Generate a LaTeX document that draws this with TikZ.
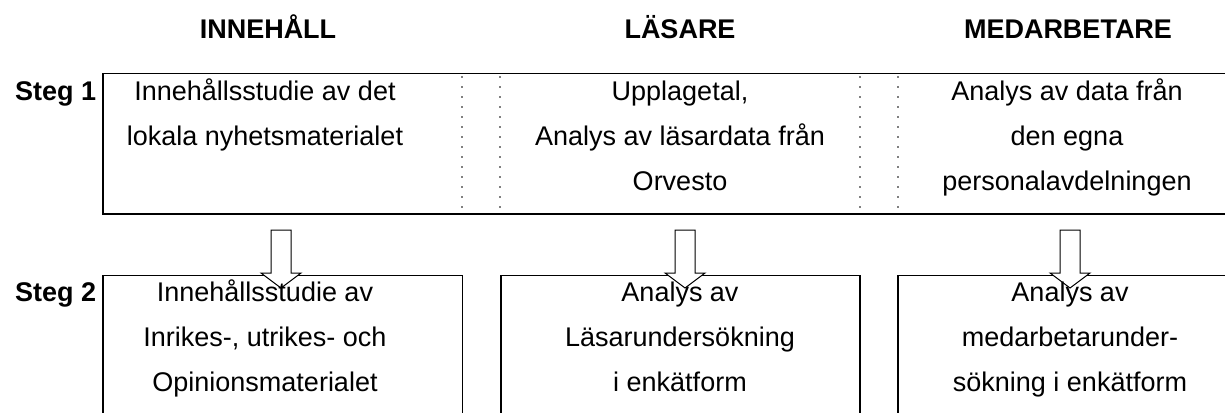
\documentclass[tikz,border=0pt]{standalone}
\usepackage{fontspec}
\setmainfont{Liberation Sans}
\begin{document}
\begin{tikzpicture}[x=1pt,y=-1pt,
    frame/.style={line width=1.5pt},
    sep/.style={gray,line width=1.8pt,dash pattern=on 1.8pt off 8.2pt},
    head/.style={font=\bfseries\fontsize{27}{32}\selectfont,anchor=base,inner sep=0pt},
    cell/.style={font=\fontsize{27}{45}\selectfont,align=center,anchor=north,inner sep=0pt},
    blockarrow/.style={draw,fill=white,line width=1pt,line join=miter}]
  \useasboundingbox (0,0) rectangle (1225,412);
  \clip (0,0) rectangle (1225,412);
  \node[head] (innehall) at (268,39) {INNEHÅLL};
  \node[head] (lasare) at (680,39) {LÄSARE};
  \node[head] (medarb) at (1068,39) {MEDARBETARE};
  \node[head,anchor=base west] (steg1) at (15,100) {Steg 1};
  \node[head,anchor=base west] (steg2) at (15,301.5) {Steg 2};
  \draw[frame] (103,73.5) rectangle (1240,214);
  \foreach \x in {462,500,860,898} \draw[sep] (\x,76) -- (\x,212);
  \draw[frame] (103,430) |- (462.5,275.5) -- (462.5,430);
  \draw[frame] (501,430) |- (860,275.5) -- (860,430);
  \draw[frame] (898,430) |- (1240,275.5);
  \foreach \x in {281,685,1070} {
    \draw[blockarrow] (\x-10,230) -- (\x+10,230) -- (\x+10,273) -- (\x+20,273)
      -- (\x,288) -- (\x-20,273) -- (\x-10,273) -- cycle;
  }
  \node[cell] (inn1) at (265,68.5) {\strut Innehållsstudie av det\\lokala nyhetsmaterialet};
  \node[cell] (las1) at (680,68.5) {\strut Upplagetal,\\Analys av läsardata från\\Orvesto};
  \node[cell] (med1) at (1067,68.5) {\strut Analys av data från\\den egna\\personalavdelningen};
  \node[cell] (inn2) at (265,270) {\strut Innehållsstudie av\\Inrikes-, utrikes- och\\Opinionsmaterialet};
  \node[cell] (las2) at (680,270) {\strut Analys av\\Läsarundersökning\\i enkätform};
  \node[cell] (med2) at (1070,270) {\strut Analys av\\medarbetarunder-\\sökning i enkätform};
\end{tikzpicture}
\end{document}
